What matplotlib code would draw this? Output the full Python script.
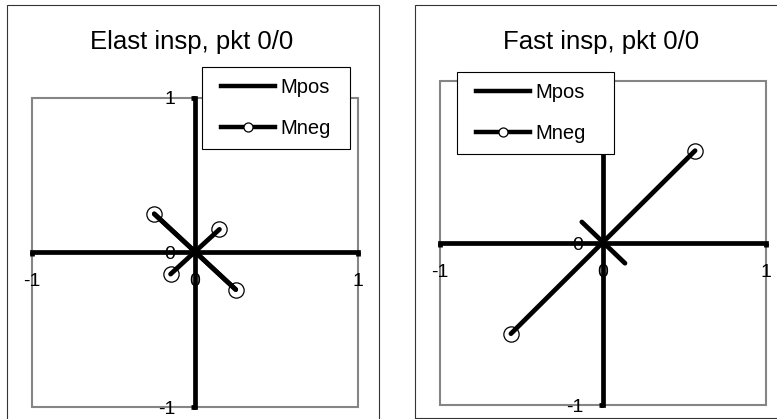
import numpy as np
import matplotlib
matplotlib.use("Agg")
import matplotlib.pyplot as plt
from matplotlib.lines import Line2D
from matplotlib.legend_handler import HandlerLine2D
from matplotlib.patches import Rectangle

plt.rcParams['font.family'] = ['Liberation Sans', 'DejaVu Sans']
plt.rcParams['axes.unicode_minus'] = False

titles = ["Elast insp, pkt 0/0", "Fast insp, pkt 0/0"]
series_names = ["Mpos", "Mneg"]
ticks = [-1, 0, 1]

# Elast insp
elast_mpos_x = [-0.25, 0.25]
elast_mpos_y = [0.25, -0.24]
elast_mneg_x = [-0.25, 0.25, np.nan, -0.15, 0.15]
elast_mneg_y = [0.25, -0.24, np.nan, -0.14, 0.15]

# Fast insp
fast_mpos_x = [-0.13, 0.135]
fast_mpos_y = [0.13, -0.125]
fast_mneg_x = [-0.565, 0.565]
fast_mneg_y = [-0.56, 0.57]

W, H = 777, 419
fig = plt.figure(figsize=(W / 100, H / 100), dpi=100)


def px_box(x0, y0, x1, y1):
    # pixel box (top-left origin) -> figure fraction
    return [x0 / W, 1 - y1 / H, (x1 - x0) / W, (y1 - y0) / H]


def draw_panel(ax, title, mpos, mneg, leg_box, title_pos, ytick_labels):
    ax.plot(mpos[0], mpos[1], color="black", lw=3.4, solid_capstyle="round")
    ax.plot(mneg[0], mneg[1], color="black", lw=3.4, solid_capstyle="round",
            marker="o", ms=11, mfc="none", mec="black", mew=0.9)

    ax.set_xlim(-1, 1)
    ax.set_ylim(-1, 1)
    for s in ["left", "bottom"]:
        ax.spines[s].set_position("zero")
        ax.spines[s].set_linewidth(3.4)
        ax.spines[s].set_color("black")
    ax.spines["top"].set_visible(False)
    ax.spines["right"].set_visible(False)
    ax.add_patch(Rectangle((0, 0), 1, 1, transform=ax.transAxes, fill=False,
                           ec="#858585", lw=1.5, zorder=0, clip_on=False))

    ax.set_xticks(ticks)
    ax.set_yticks(ticks)
    ax.set_xticklabels([str(t) for t in ticks])
    ax.set_yticklabels(ytick_labels)
    ax.tick_params(axis="x", direction="out", length=3, width=3.4, pad=12, labelsize=14)
    ax.tick_params(axis="y", direction="out", length=3, width=3.4, pad=11, labelsize=14)

    handles = [Line2D([], [], color="black", lw=3.2),
               Line2D([], [], color="black", lw=3.2, marker="o", ms=6.5,
                      mfc="white", mec="black", mew=0.9)]
    leg = ax.legend(handles, series_names, loc="upper left", bbox_to_anchor=leg_box,
                    mode="expand", borderaxespad=0, fontsize=14.5, fancybox=False,
                    edgecolor="black", framealpha=1, borderpad=0.55, labelspacing=1.1,
                    handlelength=3.1, handletextpad=0.25,
                    handler_map={Line2D: HandlerLine2D(xpad=0.4)})
    leg.get_frame().set_linewidth(0.8)

    ax.text(title_pos[0], title_pos[1], title, transform=ax.transAxes,
            ha="center", va="center", fontsize=18.5)


ax1 = fig.add_axes(px_box(32, 98, 358, 407))
draw_panel(ax1, titles[0], (elast_mpos_x, elast_mpos_y), (elast_mneg_x, elast_mneg_y),
           (0.521, 0.838, 0.454, 0.262), (0.49, 1.181), ["-1", "0", "1"])

# the top "1" of the right chart sits under its legend
ax2 = fig.add_axes(px_box(440, 81, 766, 405))
draw_panel(ax2, titles[1], (fast_mpos_x, fast_mpos_y), (fast_mneg_x, fast_mneg_y),
           (0.052, 0.778, 0.482, 0.25), (0.494, 1.12), ["-1", "0", ""])

# chart borders
fig.add_artist(Rectangle(px_box(7, 5, 379, 425)[:2], 372 / W, 420 / H,
                         transform=fig.transFigure, fill=False, ec="#333333", lw=0.8))
fig.add_artist(Rectangle(px_box(415, 5, 785, 418)[:2], 370 / W, 413 / H,
                         transform=fig.transFigure, fill=False, ec="#333333", lw=0.8))

fig.savefig("out.png", dpi=100)
